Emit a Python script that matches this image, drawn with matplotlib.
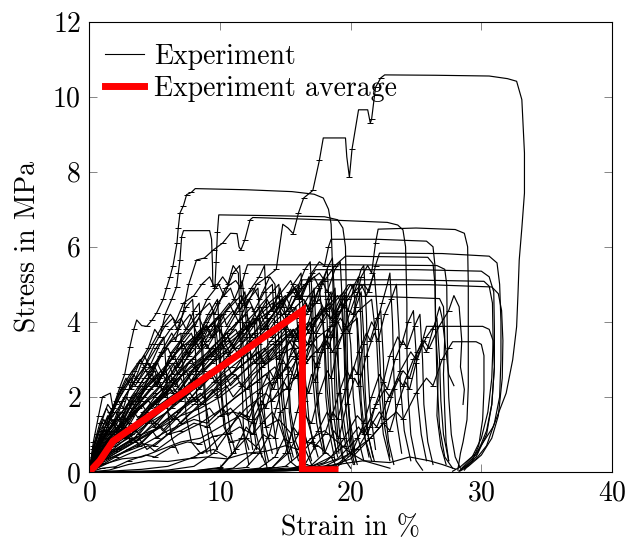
import matplotlib
matplotlib.use("Agg")
import matplotlib.pyplot as plt

# strain in %, stress in MPa, one list of (strain, stress) points per specimen
run_01 = [(0,0),(0.4,0.4),(1.0,0.9),(2.0,1.4),(3.0,1.8),(3.4,1.6),(4.2,2.2),(5.5,2.6),(6.5,3.1),(6.8,2.8),(7.8,3.4),(9.0,3.9),(9.4,3.6),(10.5,4.3),(11.6,4.7),(12.0,4.4),(12.8,5.0),(13.6,5.2),(14.3,5.4),(14.8,6.6),(15.2,6.5),(15.6,6.35),(16.0,6.9),(16.4,7.3),(17.1,7.5),(17.6,8.3),(17.9,8.9),(19.6,8.9),(19.7,8.4),(19.9,7.85),(20.1,8.6),(20.6,9.65),(21.3,9.65),(21.5,9.3),(21.6,9.4),(21.9,10.25),(22.3,10.5),(22.6,10.58),(26.5,10.57),(30.6,10.55),(32.0,10.48),(32.7,10.41),(33.1,9.92),(33.3,8.5),(33.3,7.43),(33.1,6.5),(32.9,5.65),(32.8,4.7),(32.7,3.87),(32.4,2.99),(31.9,2.1),(30.9,1.2),(29.6,0.5),(28.4,0.14),(27.8,0.02)]
run_02 = [(0,0),(0.3,0.32),(0.8,0.7),(1.3,1.12),(1.8,1.7),(2.34,2.27),(2.7,2.6),(3.1,3.34),(3.4,3.8),(3.62,4.05),(4.0,3.9),(4.38,3.88),(4.8,4.05),(5.15,4.24),(5.65,4.6),(5.9,4.9),(6.17,5.2),(6.4,5.5),(6.7,6.1),(6.8,6.5),(6.93,6.9),(7.2,7.1),(7.44,7.39),(7.8,7.45),(8.1,7.55),(12,7.52),(15.5,7.47),(17.2,7.4),(17.9,7.3),(18.3,7.0),(18.5,6.6),(18.6,5.5),(18.7,4.2),(18.9,2.5),(19.1,1.2),(19.4,0.4),(20.0,0.1)]
run_03 = [(0,0),(0.4,0.5),(1.0,1.0),(1.6,1.6),(2.2,1.9),(2.6,1.7),(3.2,2.4),(3.8,2.9),(4.5,3.3),(5.0,3.8),(5.4,3.6),(5.8,4.2),(6.3,4.6),(6.68,4.94),(6.8,5.3),(6.93,5.65),(7.06,6.27),(7.2,6.43),(9.2,6.43),(9.35,6.2),(9.42,5.5),(9.45,4.95),(9.8,5.0),(10.2,5.2),(10.6,5.0),(11.0,5.5),(11.4,5.3),(11.6,3.5),(11.8,1.0),(12.2,0.2)]
run_04 = [(0,0),(0.5,0.6),(1.2,1.2),(2.0,1.9),(2.8,2.5),(3.2,2.2),(4.0,2.9),(4.8,3.4),(5.6,3.9),(6.2,4.2),(6.6,4.0),(7.2,4.5),(8.0,4.7),(8.6,5.0),(9.2,5.2),(9.6,4.9),(9.7,5.6),(9.8,6.4),(9.9,6.85),(14,6.83),(18.0,6.8),(19.0,6.72),(19.4,6.5),(19.6,6.0),(19.7,4.0),(19.8,2.0),(20.0,0.8),(20.5,0.2)]
run_05 = [(0,0),(0.6,0.6),(1.5,1.1),(2.5,1.6),(3.5,2.1),(3.8,1.9),(4.6,2.6),(5.5,3.2),(6.3,3.7),(6.6,3.5),(7.2,4.3),(7.6,5.0),(8.2,5.65),(8.8,5.7),(9.5,5.92),(10.2,6.1),(10.8,6.36),(11.3,6.35),(11.45,6.0),(11.6,5.92),(11.9,6.19),(12.3,6.72),(12.5,6.78),(18,6.72),(22.8,6.65),(23.6,6.58),(24.0,6.45),(24.2,6.0),(24.3,4.5),(24.3,3.3),(24.4,2.0),(24.6,1.0),(25.0,0.3),(25.5,0.05)]
run_06 = [(0,0),(1,0.3),(2.5,0.5),(4,0.7),(6,1.1),(8,1.4),(9,1.3),(10.5,1.8),(12,2.2),(13.5,2.6),(14,2.3),(15.5,3.0),(17,3.5),(17.5,3.2),(18.5,3.9),(19.5,4.4),(20.2,4.2),(20.8,5.2),(21.3,5.5),(21.6,5.3),(21.9,6.1),(22.1,6.47),(25,6.5),(28.0,6.46),(28.7,6.36),(28.95,6.0),(29.0,5.0),(29.0,3.5),(29.0,2.27),(28.9,1.39),(28.6,0.8),(28.4,0.5),(28.2,0.05)]
run_07 = [(0,0),(0.5,0.4),(1.5,0.9),(3,1.4),(4.5,1.9),(5,1.7),(6.5,2.4),(8,2.9),(9.5,3.3),(10,3.0),(11.5,3.7),(13,4.1),(13.4,3.8),(14.6,4.5),(15.8,4.9),(16.2,4.6),(17.0,5.3),(17.6,5.6),(18.0,5.5),(18.3,6.0),(18.5,6.2),(22,6.2),(25.8,6.15),(26.3,6.0),(26.45,5.5),(26.5,4.0),(26.6,2.5),(26.8,1.2),(27.2,0.4),(27.8,0.1)]
run_08 = [(0,0),(1,0.2),(2.5,0.35),(4,0.4),(5.5,0.6),(7,0.8),(8.5,0.9),(10,1.2),(11.5,1.5),(12.5,1.3),(13.5,1.8),(15,2.2),(16,2.6),(17,3.1),(17.4,2.8),(18.3,3.6),(19.2,4.1),(19.6,3.9),(20.4,4.7),(21.0,5.0),(21.4,4.8),(21.9,5.5),(22.2,5.83),(27,5.82),(30.6,5.75),(31.2,5.57),(31.4,5.0),(31.5,4.0),(31.5,3.0),(31.4,2.0),(31.0,1.3),(30.4,0.7),(29.6,0.35),(28.8,0.15),(28.3,0.03)]
run_09 = [(0,0),(0.4,0.6),(1.0,1.1),(2.0,1.6),(2.8,2.0),(3.2,1.8),(4.0,2.4),(5.0,2.9),(6.0,3.3),(6.4,3.0),(7.2,3.7),(8.3,4.2),(9.2,4.5),(9.6,4.2),(10.4,4.9),(11.2,5.1),(11.6,4.9),(11.9,5.3),(12.1,5.52),(20,5.52),(26.6,5.5),(27.2,5.4),(27.35,5.0),(27.4,3.5),(27.5,2.0),(27.7,1.0),(28.0,0.4),(28.4,0.1)]
run_10 = [(0,0),(0.5,0.5),(1.2,0.9),(2.5,1.3),(4,1.8),(4.4,1.6),(5.8,2.2),(7.2,2.6),(8.5,3.0),(8.8,2.7),(10.2,3.3),(11.6,3.7),(12.9,4.1),(13.2,3.8),(14.5,4.4),(15.6,4.8),(16.0,4.6),(16.8,5.1),(17.3,5.39),(25,5.39),(30.0,5.35),(30.6,5.2),(30.95,4.8),(31.0,3.8),(31.0,2.8),(30.8,1.8),(30.4,1.1),(29.7,0.5),(28.9,0.2),(28.3,0.02)]
run_11 = [(0,0),(0.6,0.3),(1.5,0.6),(3,0.9),(4.5,1.3),(6,1.6),(6.4,1.4),(7.8,2.0),(9.2,2.5),(10.5,2.9),(10.9,2.6),(12.2,3.3),(13.5,3.8),(14.6,4.3),(15.0,4.0),(15.8,4.7),(16.3,5.12),(24,5.12),(30.2,5.08),(30.6,4.95),(30.85,4.5),(30.9,3.5),(30.8,2.5),(30.5,1.6),(30.0,0.9),(29.3,0.4),(28.5,0.1)]
run_12 = [(0,0),(1,0.4),(2.5,0.7),(4,1.0),(5.5,1.2),(7,1.5),(8.5,1.7),(10,2.0),(11.5,2.4),(12,2.2),(13.2,2.8),(14.5,3.2),(15.5,3.5),(16,3.3),(17,3.9),(18,4.3),(18.5,4.1),(19.3,4.7),(19.8,4.99),(26,4.99),(30.8,4.93),(31.3,4.75),(31.55,4.3),(31.65,3.5),(31.6,2.5),(31.3,1.5),(30.8,0.9),(30.0,0.45),(29.0,0.15),(28.4,0.03)]
run_13 = [(0,0),(0.8,0.5),(2,0.9),(3.5,1.3),(5,1.8),(6.5,2.2),(7,2.0),(8.3,2.6),(9.6,3.0),(11,3.4),(11.4,3.1),(12.6,3.7),(13.8,4.1),(14.6,4.4),(15.0,4.2),(15.5,4.68),(22,4.68),(26.8,4.62),(27.1,4.4),(27.2,3.6),(27.1,2.6),(27.2,1.6),(27.3,0.8),(27.5,0.3)]
run_14 = [(0,0),(2,0.0),(5,0.01),(8,0.01),(11,0.02),(14,0.03),(17,0.06),(19,0.15),(20.5,0.6),(21.5,1.2),(22.2,1.6),(22.6,1.4),(23.3,2.2),(24.0,2.7),(24.5,2.5),(25.1,3.2),(25.5,3.5),(25.8,3.88),(30.1,3.88),(30.6,3.8),(30.9,3.5),(31.0,2.8),(30.8,1.8),(30.4,1.0),(29.6,0.4),(28.7,0.1)]
run_15 = [(0,0),(3,0.0),(7,0.01),(11,0.01),(15,0.03),(18,0.1),(20,0.35),(21.5,0.9),(22.5,1.3),(23.5,1.6),(24.0,1.4),(25.0,2.1),(25.8,2.5),(26.3,2.3),(27.0,3.0),(27.5,3.3),(27.8,3.47),(29.6,3.47),(30.0,3.4),(30.2,3.1),(30.2,2.2),(30.1,1.4),(29.8,0.7),(29.3,0.3),(28.7,0.05)]
run_16 = [(0,0),(0.7,0.5),(1.8,1.0),(3,1.4),(4.5,1.9),(6,2.3),(6.4,2.1),(7.8,2.7),(9.2,3.1),(10.6,3.6),(11,3.3),(12.4,3.9),(13.8,4.3),(15,4.7),(15.4,4.4),(16.5,5.0),(17.6,5.3),(18,5.1),(18.8,5.5),(19.6,5.75),(25.9,5.72),(26.3,5.55),(26.45,5.0),(26.5,3.8),(26.7,2.6),(26.6,1.5),(26.9,0.7),(27.3,0.2)]
run_17 = [(0,0),(0.3,0.8),(0.7,1.5),(1.0,2.0),(1.6,2.1),(1.8,1.7),(2.5,2.2),(3.2,2.5),(3.5,2.3),(4.3,2.7),(5.2,2.9),(5.6,2.6),(6.4,3.1),(7.2,3.4),(7.6,3.1),(8.2,3.6),(8.6,3.8),(8.8,2.5),(9.0,1.2),(9.3,0.5)]
run_18 = [(0,0),(0.5,0.7),(1.2,1.2),(2.0,1.6),(2.4,1.4),(3.2,2.0),(4.2,2.5),(5.0,2.8),(5.4,2.5),(6.3,3.2),(7.4,3.7),(8.4,4.1),(8.8,3.8),(9.8,4.5),(10.8,4.9),(11.1,4.6),(11.7,5.1),(12.0,4.0),(12.2,2.5),(12.5,1.4),(12.8,0.6)]
run_19 = [(0,0),(0.5,0.5),(1.5,1.0),(2.5,1.5),(3.0,1.3),(4.0,1.9),(5.2,2.4),(6.4,2.9),(6.8,2.6),(7.8,3.3),(9.0,3.8),(10.2,4.2),(10.5,3.9),(11.5,4.5),(12.6,4.9),(13.0,4.6),(13.8,5.2),(14.2,5.0),(14.5,3.5),(14.7,2.0),(15.0,1.0),(15.5,0.3)]
run_20 = [(0,0),(0.6,0.4),(1.6,0.8),(2.8,1.2),(3.2,1.0),(4.4,1.6),(5.8,2.1),(7.0,2.5),(7.4,2.2),(8.6,2.9),(10.0,3.4),(11.2,3.8),(11.6,3.5),(12.8,4.1),(14.0,4.5),(14.4,4.2),(15.3,4.8),(16.0,5.0),(16.2,3.8),(16.3,2.5),(16.6,1.5),(17.0,1.0),(17.5,0.4)]
run_21 = [(0,0),(0.7,0.3),(1.8,0.6),(3.2,1.0),(4.6,1.4),(5.0,1.2),(6.4,1.8),(7.8,2.2),(9.2,2.7),(9.6,2.4),(11.0,3.0),(12.4,3.5),(13.6,3.9),(14.0,3.6),(15.2,4.2),(16.4,4.6),(16.8,4.3),(17.6,4.9),(18.0,3.6),(18.2,2.2),(18.5,1.2),(19.0,0.4)]
run_22 = [(0,0),(0.8,0.25),(2.0,0.5),(3.5,0.8),(5.0,1.1),(6.5,1.5),(7.0,1.3),(8.4,1.8),(9.8,2.2),(11.2,2.6),(11.6,2.3),(13.0,2.9),(14.4,3.4),(15.6,3.8),(16.0,3.5),(17.2,4.1),(18.4,4.5),(18.8,4.2),(19.6,4.7),(20.0,3.4),(20.2,2.0),(20.5,1.0),(21.0,0.3)]
run_23 = [(0,0),(0.4,0.6),(1.0,1.0),(1.8,1.4),(2.2,1.2),(3.0,1.8),(4.0,2.3),(4.8,2.6),(5.2,2.3),(6.0,2.9),(7.0,3.3),(8.0,3.6),(8.4,3.3),(9.2,3.9),(10.0,4.2),(10.3,3.0),(10.5,1.8),(10.8,1.0),(11.2,0.5)]
run_24 = [(0,0),(0.6,0.5),(1.4,0.9),(2.4,1.3),(2.8,1.1),(3.8,1.7),(5.0,2.1),(6.2,2.6),(6.6,2.3),(7.6,2.9),(8.8,3.4),(10.0,3.8),(10.4,3.5),(11.4,4.0),(12.4,4.4),(12.8,4.1),(13.6,4.6),(14.0,4.3),(14.6,4.9),(15.0,4.2),(15.2,2.8),(15.4,1.6),(15.8,0.8),(16.4,0.3)]
run_25 = [(0,0),(1.0,0.3),(2.5,0.6),(4.0,0.9),(5.5,1.2),(6.0,1.0),(7.5,1.5),(9.0,1.9),(10.5,2.3),(11.0,2.0),(12.5,2.6),(14.0,3.0),(15.5,3.3),(16.0,3.0),(17.5,3.6),(19.0,4.0),(19.4,3.7),(20.6,4.3),(21.6,4.6),(22.0,3.4),(22.2,2.0),(22.5,1.0),(23.0,0.3)]
run_26 = [(0,0),(0.3,0.5),(0.8,1.0),(1.4,1.5),(1.8,1.3),(2.5,1.9),(3.4,2.4),(4.2,2.8),(4.6,2.5),(5.4,3.1),(6.3,3.5),(7.0,3.7),(7.2,2.6),(7.4,1.5),(7.8,0.8),(8.5,0.5),(9.5,0.6),(10.5,0.4)]
run_27 = [(0,0),(0.5,0.4),(1.3,0.8),(2.3,1.2),(3.4,1.6),(3.8,1.4),(5.0,2.0),(6.4,2.5),(7.8,3.0),(8.2,2.7),(9.4,3.3),(10.8,3.8),(12.0,4.2),(12.4,3.9),(13.4,4.4),(14.4,4.7),(14.8,4.4),(15.6,5.0),(16.2,5.3),(16.4,4.0),(16.5,2.6),(16.8,1.4),(17.2,0.6)]
run_28 = [(0,0),(0.9,0.3),(2.2,0.6),(3.6,0.9),(5.2,1.3),(5.6,1.1),(7.2,1.7),(8.8,2.1),(10.4,2.6),(10.8,2.3),(12.4,2.9),(14.0,3.4),(15.4,3.8),(15.8,3.5),(17.2,4.1),(18.4,4.4),(18.8,4.1),(19.8,4.6),(20.8,5.0),(21.2,4.7),(21.8,5.3),(22.1,4.0),(22.3,2.5),(22.6,1.2),(23.0,0.4)]
run_29 = [(0,0),(0.6,0.6),(1.4,1.1),(2.4,1.6),(2.8,1.4),(3.8,2.0),(5.0,2.5),(6.0,2.9),(6.4,2.6),(7.4,3.2),(8.6,3.7),(9.6,4.0),(9.9,3.2),(10.1,2.0),(10.3,1.2),(10.8,0.8),(12.0,0.9),(13.0,0.6),(13.5,0.2)]
run_30 = [(0,0),(0.8,0.4),(2.0,0.8),(3.4,1.2),(3.8,1.0),(5.2,1.6),(6.6,2.0),(8.0,2.5),(8.4,2.2),(9.8,2.8),(11.2,3.3),(12.6,3.7),(13.0,3.4),(14.2,4.0),(15.4,4.4),(15.8,4.1),(16.8,4.7),(17.8,5.1),(18.2,4.8),(18.8,5.4),(19.2,5.6),(19.4,4.2),(19.6,2.8),(19.9,1.5),(20.3,0.6)]
run_31 = [(0,0),(0.5,0.3),(1.5,0.7),(3.0,1.1),(4.5,1.5),(5.0,1.3),(6.5,1.8),(8.0,2.2),(9.5,2.6),(10.0,2.3),(11.5,2.8),(13.0,3.2),(13.4,2.9),(14.5,3.4),(15.5,3.7),(16.0,2.6),(16.2,1.5),(16.6,0.8),(17.5,0.7),(18.5,0.4),(19.0,0.1)]
run_32 = [(0,0),(0.4,0.7),(0.9,1.3),(1.4,1.8),(1.8,1.6),(2.6,2.2),(3.4,2.7),(4.2,3.1),(4.6,2.8),(5.4,3.4),(6.2,3.8),(7.0,4.1),(7.4,3.8),(8.0,4.3),(8.4,4.5),(8.6,3.2),(8.8,2.0),(9.2,1.2),(9.8,0.6)]
run_33 = [(0,0),(0.7,0.4),(1.8,0.9),(3.0,1.3),(3.4,1.1),(4.6,1.7),(6.0,2.2),(7.4,2.7),(7.8,2.4),(9.2,3.0),(10.6,3.5),(12.0,3.9),(12.4,3.6),(13.6,4.2),(14.8,4.6),(15.2,4.3),(16.2,4.9),(17.2,5.2),(17.6,4.9),(18.3,5.5),(18.6,5.7),(18.8,4.4),(19.0,3.0),(19.3,1.8),(19.7,0.8),(20.2,0.2)]
run_34 = [(0,0),(0.5,0.5),(1.2,1.0),(2.0,1.3),(2.4,1.1),(3.4,1.7),(4.6,2.2),(5.8,2.7),(6.2,2.4),(7.4,3.0),(8.6,3.5),(9.8,3.9),(10.2,3.6),(11.2,4.2),(12.2,4.6),(12.6,4.3),(13.4,4.8),(14.0,5.0),(14.2,3.8),(14.4,2.4),(14.7,1.3),(15.2,0.5)]
run_35 = [(0,0),(2,0.0),(5,0.01),(8,0.02),(10,0.04),(12,0.12),(13,0.5),(13.8,1.0),(14.2,0.9),(14.6,1.6),(15.0,1.7),(15.6,2.5),(16.2,3.1),(16.5,2.9),(17.0,3.7),(17.5,4.2),(17.8,4.0),(18.2,4.6),(18.5,4.8),(18.7,3.5),(18.8,2.0),(19.0,1.0),(19.4,0.3)]
run_36 = [(0,0),(3,0.0),(6,0.01),(9,0.02),(12,0.04),(14,0.12),(15.2,0.5),(16.0,1.0),(16.5,1.5),(17.0,1.3),(17.6,2.1),(18.2,2.7),(18.5,2.5),(19.0,3.3),(19.6,3.9),(19.9,3.7),(20.4,4.4),(20.8,4.8),(21.0,3.6),(21.1,2.2),(21.3,1.0),(21.8,0.3)]
run_37 = [(0,0),(2,0.0),(5,0.01),(8,0.03),(10,0.1),(11,0.5),(11.6,0.9),(12,1.2),(12.5,1.0),(13.2,1.8),(13.8,2.4),(14.1,2.2),(14.7,2.9),(15.3,3.5),(15.6,3.3),(16.1,4.0),(16.6,4.5),(16.8,4.3),(17.2,4.9),(17.4,3.4),(17.5,2.0),(17.7,1.2),(18.0,0.5)]
run_38 = [(0,0),(3,0.0),(6,0.01),(9,0.01),(12,0.02),(15,0.05),(16.5,0.2),(17.3,0.7),(18,1.0),(18.6,1.6),(19.0,1.4),(19.6,2.2),(20.2,2.8),(20.5,2.6),(21.0,3.4),(21.6,4.0),(21.9,3.8),(22.4,4.5),(22.8,5.0),(23.0,5.3),(23.2,4.0),(23.3,2.6),(23.5,1.4),(23.9,0.5)]
run_39 = [(0,0),(2,0.0),(4,0.0),(7,0.01),(10,0.02),(13,0.05),(15,0.15),(16.2,0.5),(17.0,0.8),(17.5,1.1),(18.2,1.6),(18.5,1.4),(19.1,2.1),(19.7,2.7),(20.0,2.5),(20.6,3.2),(21.2,3.7),(21.5,3.5),(22.0,4.1),(22.3,4.3),(22.5,3.0),(22.6,1.8),(22.9,0.8),(23.3,0.2)]
run_40 = [(0,0),(2,0.0),(5,0.01),(8,0.03),(10,0.12),(11.2,0.6),(12.0,0.9),(12.5,1.4),(13.2,1.9),(13.5,1.7),(14.1,2.4),(14.8,3.0),(15.1,2.8),(15.7,3.5),(16.3,4.0),(16.6,3.8),(17.2,4.5),(17.7,5.0),(18.0,5.2),(18.2,4.0),(18.3,2.6),(18.5,1.4),(18.9,0.5)]
run_41 = [(0,0),(3,0.0),(6,0.01),(9,0.02),(12,0.03),(15,0.06),(17,0.15),(18.5,0.4),(19.5,0.9),(20.5,1.5),(21.0,1.3),(21.6,2.0),(22.2,2.6),(22.5,2.4),(23.0,3.1),(23.6,3.6),(23.9,3.4),(24.4,4.0),(24.8,4.3),(25.0,3.2),(25.1,2.0),(25.4,1.0),(25.8,0.3)]
run_42 = [(0,0),(2,0.01),(4,0.02),(6,0.05),(8,0.15),(9.5,0.5),(10.5,1.0),(11.5,1.6),(12.2,1.4),(13.0,2.1),(13.8,2.7),(14.1,2.5),(14.8,3.2),(15.6,3.8),(15.9,3.6),(16.5,4.2),(17.1,4.7),(17.4,4.5),(17.9,5.1),(18.2,5.4),(18.4,4.1),(18.5,2.7),(18.7,1.5),(19.1,0.5)]
run_43 = [(0,0),(3,0.0),(6,0.01),(9,0.01),(12,0.02),(15,0.05),(18,0.15),(20,0.5),(21.5,0.9),(22.5,1.3),(23.0,1.1),(23.6,1.8),(24.2,2.4),(24.5,2.2),(25.0,2.9),(25.5,3.4),(25.8,3.2),(26.3,3.8),(26.6,4.1),(26.8,3.0),(26.9,1.9),(27.1,1.0),(27.5,0.3)]
run_44 = [(0,0),(2,0.03),(4,0.07),(6,0.15),(8,0.4),(9,0.6),(10.5,1.1),(12,1.7),(13.5,2.1),(14,1.9),(15.2,2.6),(16.2,3.2),(16.6,3.0),(17.4,3.7),(18.2,4.2),(18.6,4.0),(19.3,4.6),(20.0,5.0),(20.3,4.8),(20.8,5.4),(21.0,5.5),(21.2,4.2),(21.3,2.8),(21.5,1.6),(21.9,0.6)]
run_45 = [(0,0),(3,0.0),(6,0.01),(10,0.02),(14,0.04),(17,0.1),(19,0.35),(20.5,0.9),(21.5,1.4),(22.0,1.2),(22.8,1.9),(23.6,2.5),(24.0,2.3),(24.8,3.0),(25.6,3.5),(26.0,3.3),(26.8,3.9),(27.5,4.3),(27.9,4.7),(28.3,4.4),(28.5,3.5),(28.4,2.8),(28.7,2.2),(28.6,1.8)]
run_46 = [(0,0),(4,0.0),(8,0.01),(12,0.02),(16,0.06),(18,0.25),(19.5,0.7),(20.6,1.2),(21.0,1.0),(21.8,1.7),(22.6,2.2),(23.0,2.0),(23.8,2.7),(24.6,3.2),(25.0,3.0),(25.8,3.6),(26.4,3.9),(26.8,4.4),(27.0,4.1),(27.3,3.2),(27.5,2.6),(27.9,2.3)]
run_47 = [(0,0),(1,0.1),(2,0.14),(3,0.3),(4.3,0.45),(5,0.4),(6.3,0.67),(7.5,0.8),(8.4,0.75),(9.5,0.95),(10.7,1.03),(11.5,1.2),(12.5,1.0),(13.2,1.3),(14.0,1.6),(14.5,1.3),(15.0,0.8),(15.3,0.3),(16.0,0.1)]
run_48 = [(0,0),(1.5,0.05),(3,0.2),(4.5,0.3),(6,0.28),(7.5,0.35),(9,0.4),(10.5,0.35),(12,0.5),(13.5,0.55),(15,0.7),(16,0.6),(17,0.9),(18,1.1),(19,0.8),(20,0.5),(21,0.3),(22,0.2),(23,0.1)]
run_49 = [(0,0),(1,0.2),(2,0.4),(3,0.6),(4,0.75),(5,0.7),(6,1.0),(7,1.1),(8,1.3),(9,1.2),(10,1.5),(11,1.6),(12,1.5),(12.8,1.9),(13.2,1.4),(13.4,0.5),(13.6,0.1)]
run_50 = [(0,0),(5,0.02),(10,0.03),(13,0.05),(15,0.1),(17,0.12),(19,0.2),(21,0.3),(23,0.25),(24.5,0.4),(26,0.3),(27,0.2),(28,0.08)]
run_51 = [(0,0),(0.3,0.4),(0.8,0.8),(1.5,1.1),(2.2,1.5),(2.5,1.3),(3.3,1.9),(4.2,2.3),(5.0,2.7),(5.3,2.4),(6.2,3.1),(7.1,3.5),(8.0,3.9),(8.3,3.6),(9.1,4.2),(9.8,4.6),(10.0,3.5),(10.1,2.2),(10.4,1.2),(10.9,0.5)]
run_52 = [(0,0),(0.5,0.5),(1.2,0.8),(2.0,1.1),(2.3,0.9),(3.2,1.5),(4.3,1.9),(5.4,2.3),(5.8,2.0),(6.8,2.6),(7.9,3.0),(9.0,3.4),(9.4,3.1),(10.5,3.7),(11.6,4.1),(12.0,3.8),(13.0,4.4),(14.0,4.8),(14.5,5.0),(14.7,3.6),(14.8,2.2),(15.1,1.1),(15.6,0.4)]
run_53 = [(0,0),(0.6,0.4),(1.6,0.7),(2.8,1.0),(3.2,0.8),(4.4,1.3),(5.8,1.7),(7.2,2.1),(7.6,1.9),(9.0,2.5),(10.4,2.9),(11.8,3.3),(12.2,3.0),(13.4,3.6),(14.6,4.0),(15.0,3.8),(15.8,4.4),(16.1,3.2),(16.2,2.0),(16.5,1.0),(17.0,0.3)]
run_54 = [(0,0),(0.3,0.6),(0.8,1.1),(1.5,1.5),(1.9,1.3),(2.7,2.0),(3.6,2.5),(4.5,2.9),(4.9,2.7),(5.8,3.3),(6.8,3.8),(7.7,4.2),(8.1,3.9),(9.0,4.6),(9.9,5.0),(10.3,4.7),(11.0,5.3),(11.5,5.5),(11.7,4.2),(11.8,2.8),(12.1,1.5),(12.5,0.6)]
run_55 = [(0,0),(0.8,0.3),(2.0,0.6),(3.4,0.9),(3.8,0.7),(5.2,1.2),(6.7,1.6),(8.2,2.0),(8.6,1.8),(10.0,2.4),(11.5,2.8),(12.9,3.2),(13.3,2.9),(14.4,3.5),(15.0,3.8),(15.2,2.7),(15.3,1.6),(15.6,0.8),(16.2,0.3)]
run_56 = [(0,0),(0.4,0.5),(1.0,0.9),(1.8,1.3),(2.1,1.1),(3.0,1.7),(3.9,2.1),(4.8,2.5),(5.1,2.3),(6.0,2.9),(6.9,3.3),(7.8,3.7),(8.1,3.4),(8.9,4.0),(9.5,4.3),(9.7,3.1),(9.8,2.0),(10.1,1.5),(10.8,1.7),(11.5,1.4),(12.2,0.6)]
run_57 = [(0,0),(0.5,0.4),(1.4,0.8),(2.4,1.1),(2.8,0.9),(3.9,1.5),(5.1,1.9),(6.3,2.3),(6.7,2.1),(7.9,2.7),(9.1,3.1),(10.3,3.5),(10.7,3.2),(11.9,3.8),(13.1,4.2),(13.5,3.9),(14.6,4.5),(15.7,4.9),(16.1,4.6),(16.8,5.2),(17.0,4.0),(17.1,2.5),(17.4,1.3),(17.9,0.5)]
run_58 = [(0,0),(1.0,0.25),(2.4,0.5),(4.0,0.8),(4.4,0.6),(6.0,1.0),(7.6,1.4),(9.2,1.7),(9.6,1.5),(11.2,2.0),(12.8,2.4),(14.2,2.8),(14.6,2.5),(15.4,3.1),(15.8,3.3),(16.0,2.3),(16.1,1.4),(16.4,0.7),(17.0,0.2)]
run_59 = [(0,0),(0.2,0.5),(0.6,1.0),(1.1,1.4),(1.4,1.2),(2.0,1.8),(2.7,2.2),(3.4,2.6),(3.7,2.4),(4.4,2.9),(5.1,3.3),(5.7,3.6),(5.9,2.6),(6.0,1.6),(6.3,0.9),(6.8,0.5)]
run_60 = [(0,0),(0.4,0.5),(1.1,0.9),(2.0,1.2),(2.3,1.0),(3.2,1.6),(4.2,2.0),(5.2,2.4),(5.6,2.2),(6.6,2.8),(7.6,3.2),(8.6,3.6),(9.0,3.3),(10.0,3.9),(11.0,4.3),(11.4,4.0),(12.2,4.6),(12.9,4.9),(13.1,3.7),(13.2,2.3),(13.5,1.2),(14.0,0.5)]
run_61 = [(0,0),(0.6,0.5),(1.6,0.8),(2.7,1.1),(3.0,0.9),(4.2,1.4),(5.4,1.8),(6.6,2.1),(7.0,1.9),(8.2,2.5),(9.4,2.9),(10.6,3.2),(11.0,3.0),(12.0,3.6),(12.8,4.0),(13.0,2.9),(13.1,1.8),(13.5,1.2),(14.5,1.4),(15.5,1.0),(16.0,0.3)]
run_62 = [(0,0),(0.8,0.3),(2.0,0.55),(3.4,0.8),(4.8,1.1),(5.2,0.9),(6.6,1.4),(8.0,1.8),(9.4,2.2),(9.8,2.0),(11.2,2.5),(12.6,2.9),(14.0,3.3),(14.4,3.0),(15.6,3.6),(16.8,4.0),(17.2,3.7),(18.2,4.3),(19.2,4.7),(19.5,4.8),(19.6,3.5),(19.7,2.2),(20.0,1.0),(20.4,0.3)]
run_63 = [(0,0),(0.5,0.6),(1.3,1.0),(2.2,1.4),(2.6,1.2),(3.5,1.8),(4.5,2.3),(5.5,2.7),(5.9,2.4),(6.9,3.0),(7.9,3.5),(8.9,3.9),(9.3,3.6),(10.2,4.2),(11.1,4.6),(11.5,4.3),(12.4,4.9),(13.0,5.2),(13.4,5.5),(13.6,4.2),(13.7,2.8),(14.0,1.5),(14.4,0.5)]
run_64 = [(0,0),(0.7,0.35),(1.8,0.7),(3.1,1.0),(3.5,0.8),(4.9,1.3),(6.3,1.7),(7.7,2.1),(8.1,1.9),(9.5,2.4),(10.9,2.8),(12.3,3.2),(12.7,2.9),(13.9,3.5),(15.1,3.9),(15.5,3.6),(16.6,4.2),(17.6,4.6),(18.0,4.3),(18.8,4.9),(19.0,3.6),(19.1,2.3),(19.4,1.1),(19.8,0.4)]
run_65 = [(0,0),(0.3,0.7),(0.8,1.3),(1.3,1.7),(1.6,1.5),(2.3,2.1),(3.1,2.6),(3.9,3.0),(4.2,2.8),(5.0,3.4),(5.8,3.9),(6.4,4.1),(6.7,3.8),(7.4,4.4),(7.9,4.6),(8.1,3.4),(8.2,2.1),(8.5,1.2),(9.0,0.5)]
run_66 = [(0,0),(0.6,0.45),(1.5,0.85),(2.6,1.2),(3.0,1.0),(4.1,1.6),(5.3,2.0),(6.5,2.5),(6.9,2.2),(8.1,2.8),(9.3,3.3),(10.5,3.7),(10.9,3.4),(12.0,4.0),(13.1,4.4),(13.5,4.1),(14.5,4.7),(15.4,5.1),(15.8,4.8),(16.5,5.4),(16.9,5.6),(17.1,4.3),(17.2,2.9),(17.5,1.6),(18.0,0.6)]
run_67 = [(0,0),(0.9,0.35),(2.2,0.65),(3.6,0.95),(4.0,0.8),(5.5,1.3),(7.0,1.7),(8.5,2.1),(8.9,1.9),(10.4,2.5),(11.9,2.9),(13.4,3.3),(13.8,3.0),(15.1,3.6),(16.4,4.0),(16.8,3.7),(17.9,4.3),(19.0,4.7),(19.4,4.4),(20.2,5.0),(20.5,3.8),(20.6,2.4),(20.9,1.2),(21.4,0.4)]
run_68 = [(0,0),(0.4,0.55),(1.0,0.95),(1.8,1.3),(2.2,1.1),(3.1,1.7),(4.1,2.2),(5.1,2.6),(5.5,2.3),(6.5,2.9),(7.5,3.4),(8.5,3.8),(8.9,3.5),(9.8,4.1),(10.7,4.5),(11.1,4.2),(11.9,4.8),(12.3,3.5),(12.4,2.2),(12.7,1.1),(13.2,0.4)]
run_69 = [(0,0),(1.2,0.2),(2.8,0.45),(4.5,0.7),(5.0,0.55),(6.8,1.0),(8.5,1.3),(10.2,1.7),(10.6,1.5),(12.2,2.0),(13.8,2.4),(15.3,2.8),(15.7,2.5),(17.0,3.1),(18.2,3.5),(18.6,3.2),(19.6,3.8),(20.5,4.1),(20.7,3.0),(20.8,1.9),(21.1,0.9),(21.6,0.3)]
run_70 = [(0,0),(0.5,0.35),(1.3,0.75),(2.3,1.05),(2.7,0.9),(3.8,1.4),(5.0,1.8),(6.2,2.2),(6.6,2.0),(7.8,2.6),(9.0,3.0),(10.2,3.4),(10.6,3.1),(11.6,3.7),(12.6,4.1),(12.8,3.0),(12.9,1.9),(13.2,1.0),(13.7,0.3)]
run_71 = [(0,0),(3,0.0),(6,0.01),(9,0.02),(12,0.04),(14,0.12),(15.0,0.5),(15.6,1.2),(16.0,1.0),(16.5,1.9),(17.0,2.6),(17.3,2.4),(17.8,3.2),(18.3,3.8),(18.6,3.6),(19.0,4.3),(19.3,4.5),(19.5,3.2),(19.6,1.8),(19.9,0.8),(20.3,0.2)]
run_72 = [(0,0),(4,0.0),(8,0.01),(12,0.02),(15,0.05),(17,0.18),(18,0.5),(18.7,1.1),(19.1,0.9),(19.7,1.8),(20.3,2.5),(20.6,2.3),(21.2,3.1),(21.8,3.7),(22.1,3.5),(22.6,4.2),(23.1,4.6),(23.5,5.0),(23.7,3.7),(23.8,2.3),(24.1,1.1),(24.6,0.3)]
run_73 = [(0,0),(4,0.0),(8,0.01),(11,0.03),(13,0.1),(14.2,0.4),(14.9,0.9),(15.3,0.8),(15.9,1.6),(16.5,2.3),(16.8,2.1),(17.4,2.9),(18.0,3.5),(18.3,3.3),(18.9,4.0),(19.5,4.5),(19.8,4.3),(20.3,5.0),(20.6,5.2),(20.8,3.9),(20.9,2.5),(21.2,1.2),(21.7,0.4)]
run_74 = [(0,0),(5,0.0),(10,0.01),(14,0.02),(17,0.05),(19,0.2),(20.2,0.6),(20.9,1.2),(21.3,1.0),(21.9,1.8),(22.5,2.4),(22.8,2.2),(23.4,3.0),(24.0,3.5),(24.3,3.3),(24.9,3.9),(25.3,4.2),(25.5,3.0),(25.6,1.8),(25.9,0.8),(26.3,0.2)]
run_75 = [(0,0),(3,0.0),(6,0.01),(9,0.03),(11,0.1),(12.5,0.5),(13.3,1.0),(13.7,0.9),(14.3,1.7),(14.9,2.4),(15.2,2.2),(15.8,3.0),(16.4,3.6),(16.7,3.4),(17.3,4.1),(17.8,4.4),(18.0,3.2),(18.1,2.0),(18.4,1.0),(18.8,0.3)]

runs = [run_01, run_02, run_03, run_04, run_05, run_06, run_07, run_08, run_09, run_10,
        run_11, run_12, run_13, run_14, run_15, run_16, run_17, run_18, run_19, run_20,
        run_21, run_22, run_23, run_24, run_25, run_26, run_27, run_28, run_29, run_30,
        run_31, run_32, run_33, run_34, run_35, run_36, run_37, run_38, run_39, run_40,
        run_41, run_42, run_43, run_44, run_45, run_46, run_47, run_48, run_49, run_50,
        run_51, run_52, run_53, run_54, run_55, run_56, run_57, run_58, run_59, run_60,
        run_61, run_62, run_63, run_64, run_65, run_66, run_67, run_68, run_69, run_70,
        run_71, run_72, run_73, run_74, run_75]

avg_strain = [0, 0.8, 1.8, 16.3, 16.3, 18.8]
avg_stress = [0, 0.3, 0.82, 4.3, 0.06, 0.06]

x_ticks = [0, 10, 20, 30, 40]
y_ticks = [0, 2, 4, 6, 8, 10, 12]

plt.rcParams['font.family'] = ['cmr10', 'DejaVu Serif']
plt.rcParams['axes.formatter.use_mathtext'] = True
plt.rcParams['font.size'] = 20

fig = plt.figure(figsize=(6.28, 5.44), dpi=100)
ax = fig.add_axes([0.1424, 0.1324, 0.9745 - 0.1424, 0.9603 - 0.1324])

for run in runs:
    xs = [p[0] for p in run]
    ys = [p[1] for p in run]
    ax.plot(xs, ys, color='k', lw=0.85)
    # short horizontal hairs on the loading parts give the noisy look of the measurements
    hx = [xs[j] for j in range(len(xs) - 1) if ys[j + 1] > ys[j] and xs[j + 1] - xs[j] < 1.5]
    hy = [ys[j] for j in range(len(xs) - 1) if ys[j + 1] > ys[j] and xs[j + 1] - xs[j] < 1.5]
    ax.plot(hx, hy, ls='none', color='k', marker='_', ms=4, mew=0.7)

ax.plot([], [], color='k', lw=0.8, label='Experiment')
ax.plot(avg_strain, avg_stress, color='#ff0000', lw=5, solid_joinstyle='miter',
        label='Experiment average')

ax.set_xlim(0, 40)
ax.set_ylim(0, 12)
ax.set_xticks(x_ticks)
ax.set_yticks(y_ticks)
ax.tick_params(direction='in', length=6, width=0.6, color='0.45',
               top=True, right=True, labelsize=20, pad=6)
for sp in ax.spines.values():
    sp.set_linewidth(0.8)
ax.set_xlabel('Strain in %', labelpad=6)
ax.set_ylabel('Stress in MPa', labelpad=8)

ax.legend(loc='upper left', bbox_to_anchor=(0.02, 0.964), frameon=False,
          handlelength=1.4, handletextpad=0.35, labelspacing=0.2,
          borderaxespad=0, borderpad=0.2)

fig.savefig('out.png', dpi=100)
